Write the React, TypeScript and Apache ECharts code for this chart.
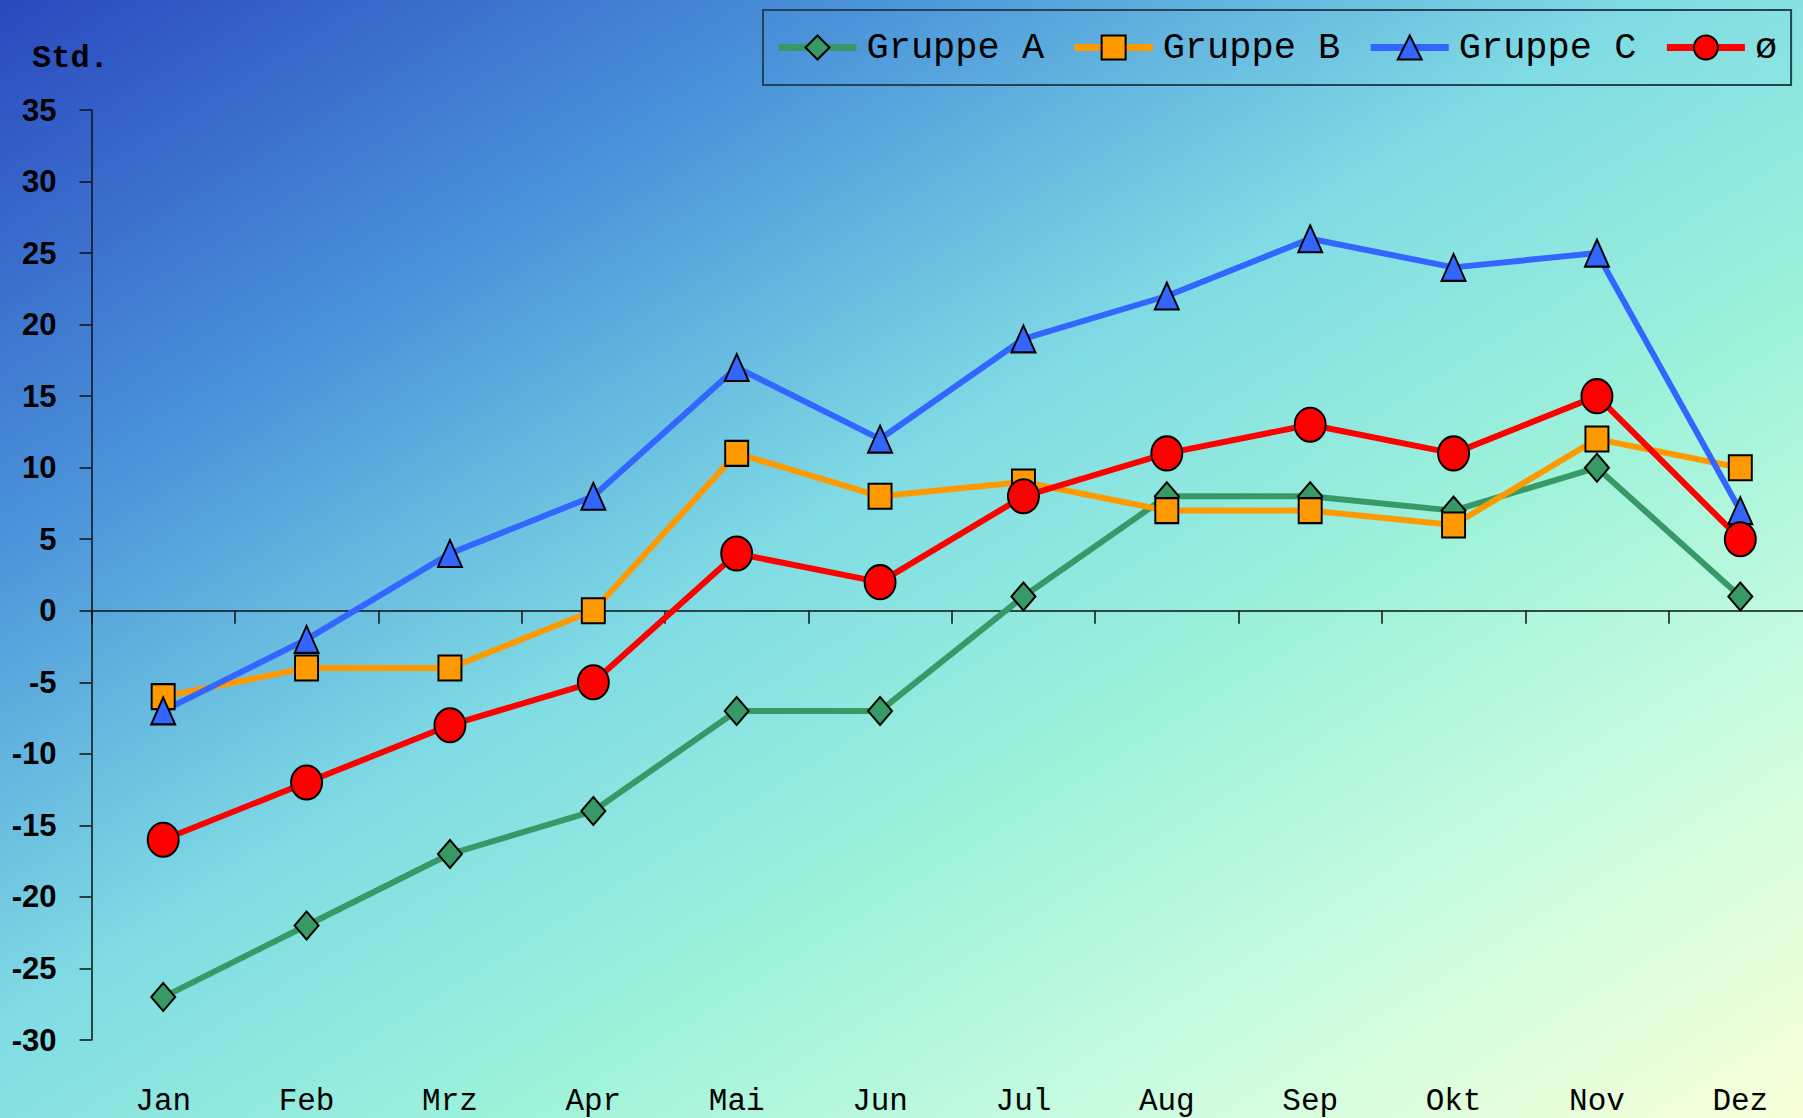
import React, { useEffect, useRef } from "react";
import * as echarts from "echarts";

const months = ["Jan", "Feb", "Mrz", "Apr", "Mai", "Jun", "Jul", "Aug", "Sep", "Okt", "Nov", "Dez"];
const gruppeA = [-27, -22, -17, -14, -7, -7, 1, 8, 8, 7, 10, 1];
const gruppeB = [-6, -4, -4, 0, 11, 8, 9, 7, 7, 6, 12, 10];
const gruppeC = [-7, -2, 4, 8, 17, 12, 19, 22, 26, 24, 25, 7];
const mittel = [-16, -12, -8, -5, 4, 2, 8, 11, 13, 11, 15, 5];
const seriesNames = ["Gruppe A", "Gruppe B", "Gruppe C", "ø"];
const yMin = -30;
const yMax = 35;
const yStep = 5;
const yAxisTitle = "Std.";

const ELLIPSE = "path://M0,50 A50,50 0 1,1 100,50 A50,50 0 1,1 0,50 Z";

export default function App() {
  const ref = useRef<HTMLDivElement>(null);

  useEffect(() => {
    if (!ref.current) return;
    const chart = echarts.init(ref.current, undefined, { renderer: "svg" });

    const mk = (
      name: string,
      data: number[],
      color: string,
      symbol: string,
      size: number[]
    ) => ({
      name,
      type: "line",
      xAxisIndex: 0,
      data,
      symbol,
      symbolSize: size,
      showAllSymbol: true,
      lineStyle: { color, width: 6 },
      itemStyle: { color, borderColor: "#000", borderWidth: 2 },
      emphasis: { disabled: true },
    });

    chart.setOption({
      animation: false,
      backgroundColor: "transparent",
      grid: {
        left: 91.5,
        right: -9,
        top: 110,
        bottom: 78,
        containLabel: false,
        outerBoundsMode: "none",
      },
      legend: {
        left: 763,
        top: 10,
        width: 1100,
        orient: "horizontal",
        itemWidth: 78,
        itemHeight: 30,
        itemGap: 27,
        padding: [19, 14, 19, 12],
        borderColor: "#1e4656",
        borderWidth: 2,
        lineStyle: { width: 7 },
        textStyle: {
          fontFamily: "Liberation Mono",
          fontSize: 37,
          color: "#000",
          padding: [0, 0, 0, 5],
        },
        data: seriesNames,
      },
      graphic: [
        {
          type: "text",
          x: 32,
          y: 58,
          style: {
            text: yAxisTitle,
            font: 'bold 32px "Liberation Mono"',
            fill: "#000",
            textVerticalAlign: "middle",
          },
        },
      ],
      xAxis: [
        {
          type: "category",
          position: "bottom",
          data: months,
          boundaryGap: true,
          axisLine: { onZero: true, lineStyle: { color: "#111", width: 1.5 } },
          axisTick: { show: true, length: 13, lineStyle: { color: "#111", width: 1.5 } },
          axisLabel: { show: false },
          splitLine: { show: false },
        },
        {
          type: "category",
          position: "bottom",
          data: months,
          boundaryGap: true,
          axisLine: { show: false, onZero: false },
          axisTick: { show: false },
          axisLabel: {
            margin: 46,
            fontFamily: "Liberation Mono",
            fontSize: 31,
            lineHeight: 31,
            color: "#000",
          },
          splitLine: { show: false },
        },
      ],
      yAxis: {
        type: "value",
        min: yMin,
        max: yMax,
        interval: yStep,
        axisLine: { show: true, lineStyle: { color: "#111", width: 1.5 } },
        axisTick: { show: true, length: 12, lineStyle: { color: "#111", width: 1.5 } },
        axisLabel: {
          margin: 35,
          fontFamily: "Liberation Sans Narrow, Liberation Sans",
          fontWeight: "bold",
          fontSize: 31,
          color: "#000",
        },
        splitLine: { show: false },
      },
      series: [
        mk(seriesNames[0], gruppeA, "#379966", "diamond", [24, 28]),
        mk(seriesNames[1], gruppeB, "#ff9900", "rect", [23, 25]),
        mk(seriesNames[2], gruppeC, "#3366ff", "triangle", [24, 27]),
        mk(seriesNames[3], mittel, "#ff0000", ELLIPSE, [31, 34]),
      ],
    });

    return () => chart.dispose();
  }, []);

  return (
    <div
      ref={ref}
      style={{
        position: "fixed",
        left: 0,
        top: 0,
        width: 1803,
        height: 1118,
        background:
          "linear-gradient(to bottom right, #2a48bf 0%, #4a92da 24%, #80dce4 46%, #9ef2da 64%, #c8fce0 80%, #f8ffd8 100%)",
      }}
    />
  );
}
